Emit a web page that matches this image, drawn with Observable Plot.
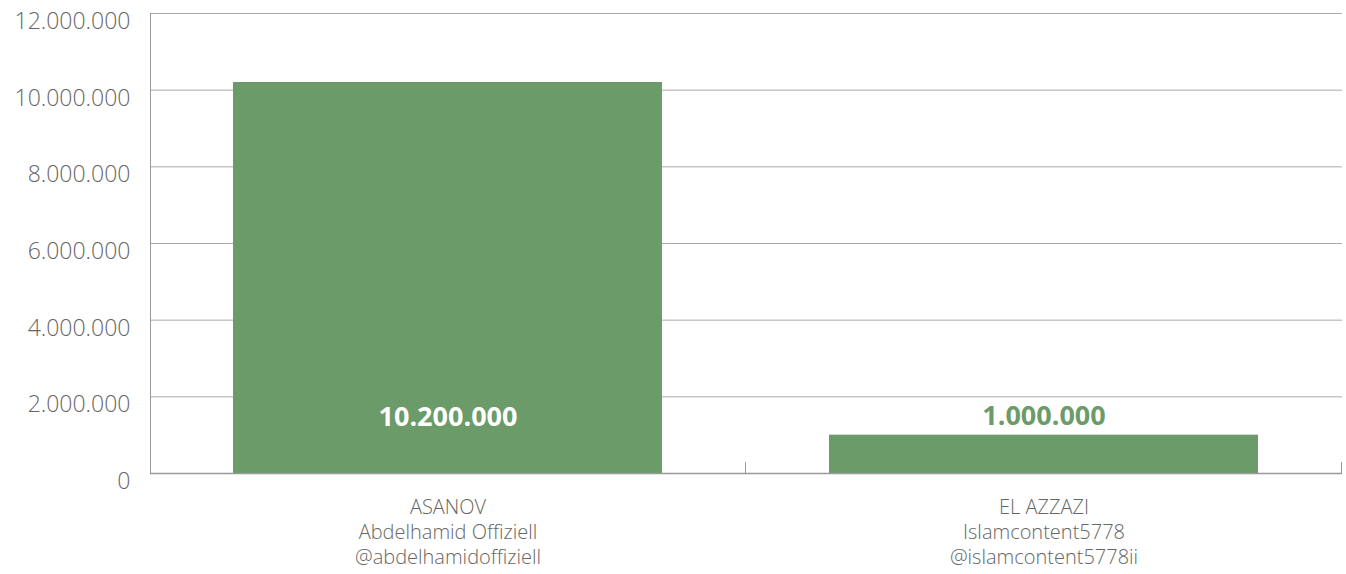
<!DOCTYPE html>
<html><head><meta charset="utf-8">
<script src="https://cdn.jsdelivr.net/npm/d3@7"></script>
<script src="https://cdn.jsdelivr.net/npm/@observablehq/plot@0.6"></script>
<style>body{margin:0;background:#fff;font-family:"Open Sans",sans-serif}</style>
</head><body><div id="chart"></div>
<script>
const categories = ["ASANOV\nAbdelhamid Offiziell\n@abdelhamidoffiziell", "EL AZZAZI\nIslamcontent5778\n@islamcontent5778ii"];
const values = [10200000, 1000000];
const valueLabels = ["10.200.000", "1.000.000"];
const yTicks = [0, 2000000, 4000000, 6000000, 8000000, 10000000, 12000000];

const data = categories.map((c, i) => ({cat: c, value: values[i], label: valueLabels[i]}));
const fmt = v => v === 0 ? "0" : d3.format(",")(v).replace(/,/g, ".");
const green = "#6b9b68";

const bandTicks = (index, scales, values, dims) => {
  const g = d3.create("svg:g");
  const step = scales.x.step ? scales.x.step() : 0;
  const y0 = scales.y(0);
  for (const c of categories) {
    const x = scales.x(c) - (step - scales.x.bandwidth()) / 2 + step;
    g.append("line").attr("x1", x).attr("x2", x).attr("y1", y0).attr("y2", y0 - 11)
      .attr("stroke", "#999").attr("stroke-width", 1);
  }
  return g.node();
};

const chart = Plot.plot({
  width: 1346, height: 574,
  marginLeft: 150, marginRight: 4, marginTop: 13, marginBottom: 101,
  style: {fontFamily: "'Open Sans', sans-serif", fontWeight: 300, color: "#666", background: "#fff"},
  x: {domain: categories, paddingInner: 0.28, paddingOuter: 0.14},
  y: {domain: [0, 12000000]},
  marks: [
    Plot.gridY(yTicks.slice(1), {stroke: "#aaa", strokeOpacity: 1, strokeWidth: 1}),
    Plot.barY(data, {x: "cat", y: "value", fill: green}),
    Plot.ruleY([0], {stroke: "#999", strokeWidth: 1.5}),
    Plot.frame({anchor: "left", stroke: "#999", strokeWidth: 1}),
    bandTicks,
    Plot.axisY({ticks: yTicks, tickFormat: fmt, tickSize: 0, tickPadding: 20, fontSize: 23, dy: 8, fill: "#666", fontWeight: 300, label: null}),
    Plot.axisX({tickSize: 0, tickPadding: 22, fontSize: 20, lineHeight: 1.27, fill: "#666", fontWeight: 300, label: null, textAnchor: "middle"}),
    Plot.text(data.filter(d => d.value > 5000000), {x: "cat", y: 0, text: "label", dy: -56, fill: "#fff", fontSize: 27, fontWeight: "bold"}),
    Plot.text(data.filter(d => d.value <= 5000000), {x: "cat", y: "value", text: "label", dy: -19, fill: green, fontSize: 27, fontWeight: "bold"})
  ]
});
document.getElementById("chart").append(chart);
</script></body></html>
